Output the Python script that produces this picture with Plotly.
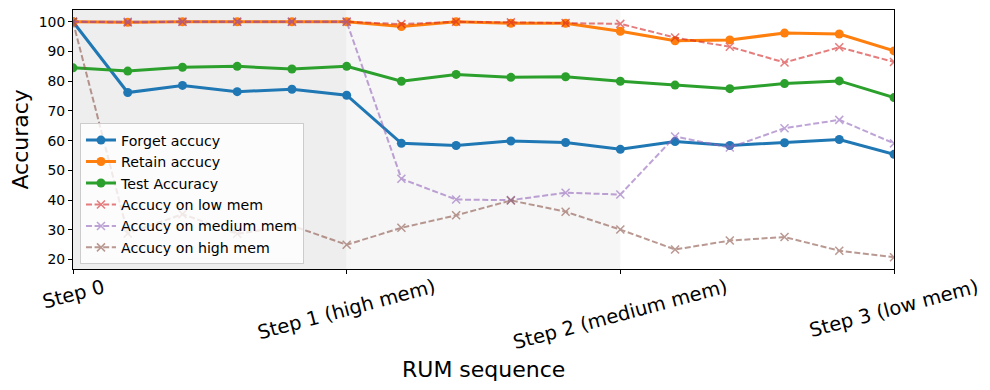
import plotly.graph_objects as go

# --- data ---
steps = list(range(16))
step_ticks = [0, 5, 10, 15]
step_labels = ["Step 0", "Step 1 (high mem)", "Step 2 (medium mem)", "Step 3 (low mem)"]

forget_acc = [100, 76.2, 78.6, 76.5, 77.3, 75.3, 59.1, 58.4, 59.9, 59.4, 57.1, 59.7, 58.4, 59.3, 60.4, 55.4]
retain_acc = [100, 99.8, 100, 100, 100, 100, 98.4, 100, 99.5, 99.5, 96.8, 93.6, 93.9, 96.2, 95.9, 90.2]
test_acc = [84.5, 83.4, 84.7, 85.0, 84.1, 85.0, 80.0, 82.3, 81.3, 81.5, 80.0, 78.7, 77.5, 79.2, 80.1, 74.5]
low_mem_acc = [100, 99.8, 100, 100, 100, 100, 99.2, 100, 99.8, 99.6, 99.3, 94.7, 91.6, 86.3, 91.4, 86.5]
medium_mem_acc = [100, 100, 100, 100, 100, 100, 47.2, 40.2, 40.0, 42.5, 41.9, 61.4, 57.7, 64.2, 67.0, 59.1]
high_mem_acc = [100, 28.8, 35.3, 28.7, 31.4, 25.0, 30.7, 34.9, 39.9, 36.1, 30.1, 23.4, 26.4, 27.6, 23.0, 20.8]

FONT = "DejaVu Sans"

fig = go.Figure()

# solid series
solid = [
    ("Forget accucy", forget_acc, "#1f77b4"),
    ("Retain accucy", retain_acc, "#ff7f0e"),
    ("Test Accuracy", test_acc, "#2ca02c"),
]
for name, ys, col in solid:
    fig.add_trace(go.Scatter(
        x=steps, y=ys, name=name, mode="lines+markers",
        line=dict(color=col, width=3),
        marker=dict(color=col, size=9, symbol="circle"),
    ))

# dashed series
dashed = [
    ("Accucy on low mem", low_mem_acc, "#d62728"),
    ("Accucy on medium mem", medium_mem_acc, "#9467bd"),
    ("Accucy on high mem", high_mem_acc, "#8c564b"),
]
for name, ys, col in dashed:
    fig.add_trace(go.Scatter(
        x=steps, y=ys, name=name, mode="lines+markers",
        line=dict(color=col, width=2, dash="6px,2.6px"),
        marker=dict(symbol="x-thin", size=8, color=col, line=dict(width=1.5, color=col)),
        opacity=0.6,
    ))

# shaded step regions
fig.add_shape(type="rect", xref="x", yref="paper", x0=0, x1=5, y0=0, y1=1,
              fillcolor="#eeeeee", line_width=0, layer="below")
fig.add_shape(type="rect", xref="x", yref="paper", x0=5, x1=10, y0=0, y1=1,
              fillcolor="#f6f6f6", line_width=0, layer="below")

# rotated step labels (centred on the ticks, like the original)
for xv, lab in zip(step_ticks, step_labels):
    fig.add_annotation(x=xv, xref="x", y=-0.014, yref="paper", text=lab,
                       showarrow=False, textangle=-15, xanchor="center", yanchor="top",
                       font=dict(family=FONT, size=19.5, color="black"))

# axis titles
fig.add_annotation(x=0.5, xref="paper", y=-0.388, yref="paper", text="RUM sequence",
                   showarrow=False, xanchor="center", yanchor="middle",
                   font=dict(family=FONT, size=22, color="black"))
fig.add_annotation(x=-0.0645, xref="paper", y=0.5, yref="paper", text="Accuracy",
                   showarrow=False, textangle=-90, xanchor="center", yanchor="middle",
                   borderpad=0,
                   font=dict(family=FONT, size=22, color="black"))

# page body has an 8px margin, so the figure is shifted back by that much
fig.update_layout(
    width=982, height=382,
    margin=dict(l=65, r=96, t=2, b=121),
    paper_bgcolor="white", plot_bgcolor="white",
    font=dict(family=FONT, color="black"),
    showlegend=True,
    legend=dict(
        x=0.0085, xanchor="left", y=0.018, yanchor="bottom",
        bgcolor="rgba(255,255,255,0.8)", bordercolor="#cccccc", borderwidth=1,
        font=dict(family=FONT, size=14.2, color="black"),
        itemwidth=30,
    ),
)

fig.update_xaxes(
    range=[0, 15], tickvals=step_ticks, showticklabels=False,
    showline=True, linecolor="black", linewidth=1, mirror=True,
    ticks="outside", ticklen=4, tickwidth=1, tickcolor="black",
    showgrid=False, zeroline=False,
)
fig.update_yaxes(
    range=[16.84, 103.96], tickvals=[20, 30, 40, 50, 60, 70, 80, 90, 100],
    showline=True, linecolor="black", linewidth=1, mirror=True,
    ticks="outside", ticklen=4, tickwidth=1, tickcolor="black",
    tickfont=dict(family=FONT, size=13.9, color="black"),
    showgrid=False, zeroline=False,
)

fig.write_html("out.html")
